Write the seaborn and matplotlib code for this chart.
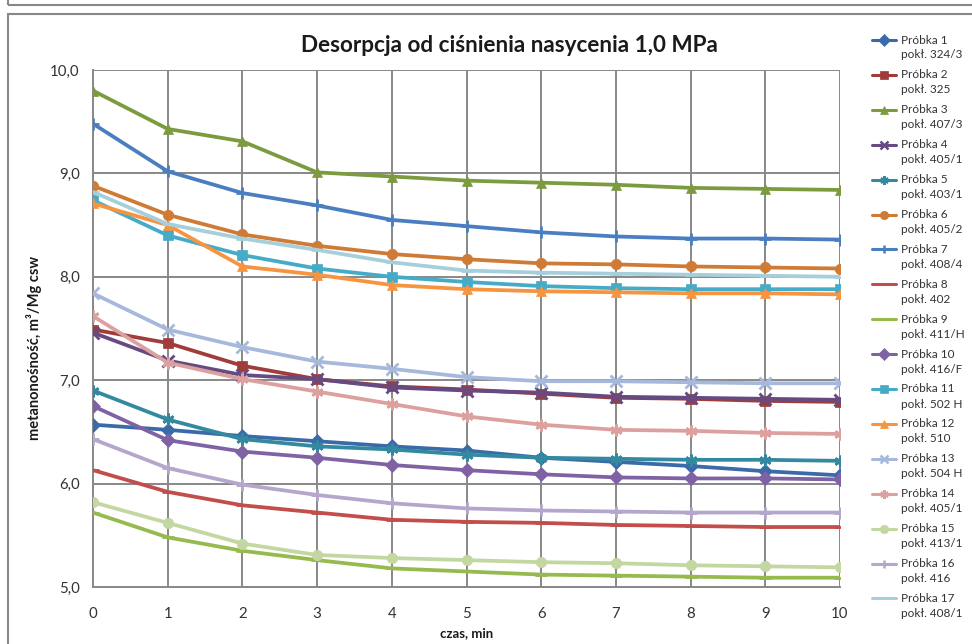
import matplotlib
matplotlib.use("Agg")
import matplotlib.pyplot as plt
from matplotlib.lines import Line2D
from matplotlib.patches import Rectangle
import seaborn as sns
import pandas as pd

# time axis, min
czas = [0, 1, 2, 3, 4, 5, 6, 7, 8, 9, 10]

# sample names (two-line legend labels)
probki = ["Próbka 1", "Próbka 2", "Próbka 3", "Próbka 4", "Próbka 5", "Próbka 6",
          "Próbka 7", "Próbka 8", "Próbka 9", "Próbka 10", "Próbka 11", "Próbka 12",
          "Próbka 13", "Próbka 14", "Próbka 15", "Próbka 16", "Próbka 17"]
poklady = ["pokł. 324/3", "pokł. 325", "pokł. 407/3", "pokł. 405/1", "pokł. 403/1",
           "pokł. 405/2", "pokł. 408/4", "pokł. 402", "pokł. 411/H", "pokł. 416/F",
           "pokł. 502 H", "pokł. 510", "pokł. 504 H", "pokł. 405/1", "pokł. 413/1",
           "pokł. 416", "pokł. 408/1"]

# metanonośność, m3/Mg csw
p1 = [6.57, 6.52, 6.46, 6.41, 6.36, 6.32, 6.25, 6.21, 6.17, 6.12, 6.08]
p2 = [7.49, 7.36, 7.14, 7.01, 6.94, 6.91, 6.87, 6.83, 6.82, 6.80, 6.79]
p3 = [9.80, 9.43, 9.31, 9.01, 8.97, 8.93, 8.91, 8.89, 8.86, 8.85, 8.84]
p4 = [7.46, 7.19, 7.05, 7.01, 6.93, 6.90, 6.88, 6.84, 6.83, 6.82, 6.81]
p5 = [6.90, 6.62, 6.43, 6.36, 6.33, 6.28, 6.25, 6.24, 6.23, 6.23, 6.22]
p6 = [8.88, 8.60, 8.41, 8.30, 8.22, 8.17, 8.13, 8.12, 8.10, 8.09, 8.08]
p7 = [9.48, 9.02, 8.81, 8.69, 8.55, 8.49, 8.43, 8.39, 8.37, 8.37, 8.36]
p8 = [6.13, 5.92, 5.79, 5.72, 5.65, 5.63, 5.62, 5.60, 5.59, 5.58, 5.58]
p9 = [5.72, 5.48, 5.35, 5.26, 5.18, 5.15, 5.12, 5.11, 5.10, 5.09, 5.09]
p10 = [6.75, 6.42, 6.31, 6.25, 6.18, 6.13, 6.09, 6.06, 6.05, 6.05, 6.04]
p11 = [8.74, 8.40, 8.21, 8.08, 8.00, 7.95, 7.91, 7.89, 7.88, 7.88, 7.88]
p12 = [8.71, 8.50, 8.10, 8.02, 7.92, 7.88, 7.86, 7.85, 7.84, 7.84, 7.83]
p13 = [7.84, 7.49, 7.32, 7.18, 7.11, 7.03, 6.99, 6.99, 6.98, 6.97, 6.97]
p14 = [7.62, 7.17, 7.01, 6.89, 6.77, 6.65, 6.57, 6.52, 6.51, 6.49, 6.48]
p15 = [5.82, 5.62, 5.42, 5.31, 5.28, 5.26, 5.24, 5.23, 5.21, 5.20, 5.19]
p16 = [6.43, 6.15, 5.99, 5.89, 5.81, 5.76, 5.74, 5.73, 5.72, 5.72, 5.72]
p17 = [8.82, 8.51, 8.37, 8.26, 8.14, 8.06, 8.04, 8.03, 8.02, 8.01, 8.00]
serie = [p1, p2, p3, p4, p5, p6, p7, p8, p9, p10, p11, p12, p13, p14, p15, p16, p17]

kolory = ["#3a6ba8", "#a03c3a", "#7b9b3e", "#654b82", "#338aa0", "#cf7a35",
          "#4a7ec0", "#c24d4a", "#95ba4e", "#7f62a3", "#45abc7", "#f7943f",
          "#a6b9dc", "#dca09e", "#c3d7a0", "#b5a6cb", "#a6cfdc"]
markery = ["D", "s", "^", "x", (6, 2, 0), "o", "+", "_", "_",
           "D", "s", "^", "x", (6, 2, 0), "o", "+", "_"]

sns.set_style("white")
plt.rcParams["font.family"] = ["Lato", "DejaVu Sans"]

fig = plt.figure(figsize=(9.72, 6.44), dpi=100)

def fx(px):
    return px / 972

def fy(py):
    return 1 - py / 644

# chart frames (Excel style)
fig.patches.append(Rectangle((fx(8), fy(5)), 1, 0.2, transform=fig.transFigure,
                             fill=False, edgecolor="#888888", lw=1.5))
fig.patches.append(Rectangle((fx(8), -0.1), 1, fy(14) + 0.1, transform=fig.transFigure,
                             fill=False, edgecolor="#888888", lw=1.5))

ax = fig.add_axes([fx(93), fy(587), fx(840) - fx(93), fy(70) - fy(587)])

for i, vals in enumerate(serie):
    df = pd.DataFrame({"czas": czas, "wartosc": vals})
    thin = markery[i] in ["x", "+", "_"] or isinstance(markery[i], tuple)
    sns.lineplot(data=df, x="czas", y="wartosc", ax=ax, color=kolory[i],
                 linewidth=2.7, marker=markery[i], markersize=7.5 if not thin else 8.5,
                 markeredgewidth=2 if thin else 0.5, markeredgecolor=kolory[i],
                 legend=False, zorder=3 + i * 0.01)

ax.set_xlim(0, 10)
ax.set_ylim(5, 10)
ax.set_xticks(czas)
ax.set_yticks([5, 6, 7, 8, 9, 10])
ax.set_yticklabels(["5,0", "6,0", "7,0", "8,0", "9,0", "10,0"])
ax.grid(True, color="#888888", linewidth=1.4)
for s in ["top", "right"]:
    ax.spines[s].set_visible(False)
for s in ["left", "bottom"]:
    ax.spines[s].set_color("#888888")
    ax.spines[s].set_linewidth(1.4)
ax.tick_params(axis="both", direction="out", length=3.6, width=1.2, color="#888888",
               labelsize=10.8, labelcolor="#333333")
ax.tick_params(axis="x", pad=11)
ax.tick_params(axis="y", pad=6)
ax.set_xlabel("")
ax.set_ylabel("")

fig.text(fx(509), fy(45), "Desorpcja od ciśnienia nasycenia 1,0 MPa", ha="center",
         va="center", fontsize=16.2, fontweight="bold", color="#1a1a1a")
fig.text(fx(467), fy(633), "czas, min", ha="center", va="center", fontsize=9.5,
         fontweight="bold", color="#1a1a1a")
fig.text(fx(34), fy(348), "metanonośność, m³/Mg csw", ha="center", va="center",
         rotation=90, fontsize=10.5, fontweight="bold", color="#1a1a1a")

# legend drawn by hand: handle aligned with first text line
for i in range(len(serie)):
    yy = 40 + 34.9 * i
    fig.add_artist(Line2D([fx(872), fx(896)], [fy(yy), fy(yy)], transform=fig.transFigure,
                          color=kolory[i], lw=2.2))
    thin = markery[i] in ["x", "+", "_"] or isinstance(markery[i], tuple)
    fig.add_artist(Line2D([fx(884)], [fy(yy)], transform=fig.transFigure,
                          color=kolory[i], marker=markery[i], markersize=6,
                          markeredgewidth=1.8 if thin else 0.5, markeredgecolor=kolory[i]))
    fig.text(fx(901), fy(yy), probki[i], ha="left", va="center", fontsize=8.5, color="#333333")
    fig.text(fx(901), fy(yy + 15), poklady[i], ha="left", va="center", fontsize=8.5,
             color="#333333")

fig.savefig("out.png", dpi=100)
